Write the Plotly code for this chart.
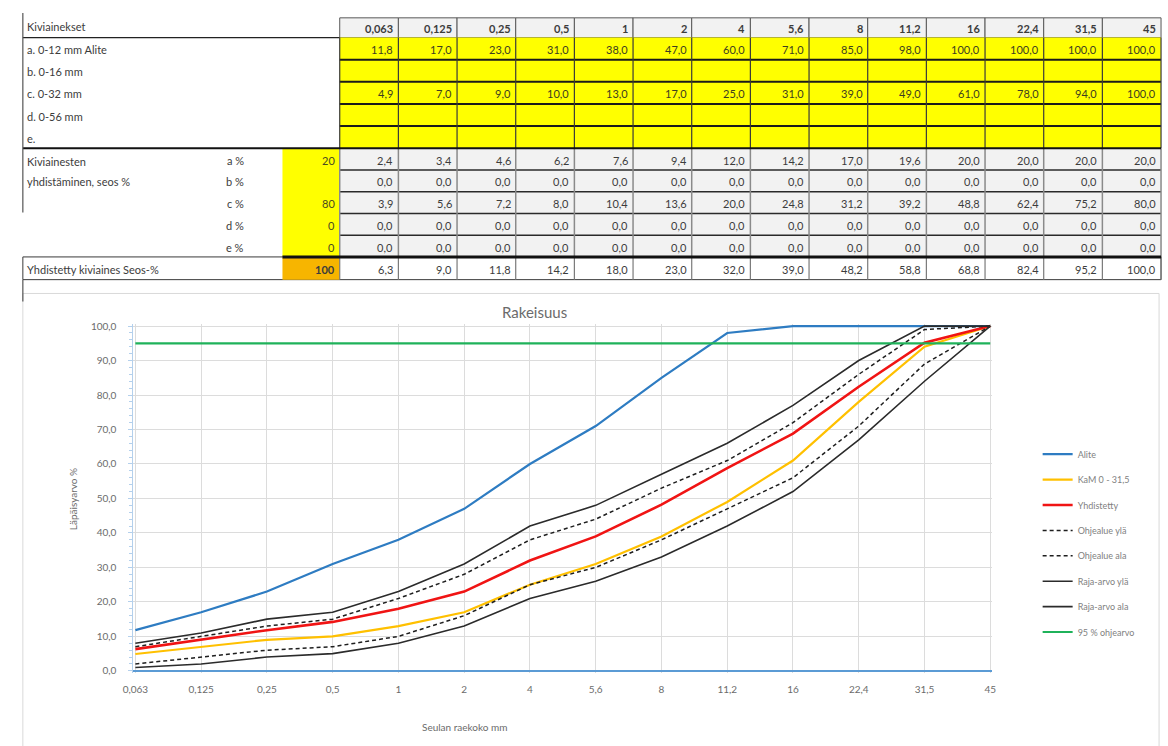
import plotly.graph_objects as go

W, H = 1168, 746

# ---- data -------------------------------------------------------------
sieve_sizes = ["0,063", "0,125", "0,25", "0,5", "1", "2", "4", "5,6", "8",
               "11,2", "16", "22,4", "31,5", "45"]

aggregate_labels = ["a. 0-12 mm Alite", "b. 0-16 mm", "c. 0-32 mm", "d. 0-56 mm", "e."]
alite_a = [11.8, 17.0, 23.0, 31.0, 38.0, 47.0, 60.0, 71.0, 85.0, 98.0, 100.0, 100.0, 100.0, 100.0]
kam_c = [4.9, 7.0, 9.0, 10.0, 13.0, 17.0, 25.0, 31.0, 39.0, 49.0, 61.0, 78.0, 94.0, 100.0]

share_labels = ["a %", "b %", "c %", "d %", "e %"]
shares = ["20", "", "80", "0", "0"]
share_total = "100"
part_a = [2.4, 3.4, 4.6, 6.2, 7.6, 9.4, 12.0, 14.2, 17.0, 19.6, 20.0, 20.0, 20.0, 20.0]
part_b = [0.0, 0.0, 0.0, 0.0, 0.0, 0.0, 0.0, 0.0, 0.0, 0.0, 0.0, 0.0, 0.0, 0.0]
part_c = [3.9, 5.6, 7.2, 8.0, 10.4, 13.6, 20.0, 24.8, 31.2, 39.2, 48.8, 62.4, 75.2, 80.0]
part_d = [0.0, 0.0, 0.0, 0.0, 0.0, 0.0, 0.0, 0.0, 0.0, 0.0, 0.0, 0.0, 0.0, 0.0]
part_e = [0.0, 0.0, 0.0, 0.0, 0.0, 0.0, 0.0, 0.0, 0.0, 0.0, 0.0, 0.0, 0.0, 0.0]
combined = [6.3, 9.0, 11.8, 14.2, 18.0, 23.0, 32.0, 39.0, 48.2, 58.8, 68.8, 82.4, 95.2, 100.0]

ohje_yla = [7, 10, 13, 15, 21, 28, 38, 44, 53, 61, 72, 86, 99, 100]
ohje_ala = [2, 4, 6, 7, 10, 16, 25, 30, 38, 47, 56, 71, 89, 100]
raja_yla = [8, 11, 15, 17, 23, 31, 42, 48, 57, 66, 77, 90, 100, 100]
raja_ala = [1, 2, 4, 5, 8, 13, 21, 26, 33, 42, 52, 67, 84, 100]
target_95 = 95

FONT = "Lato, 'Open Sans', sans-serif"
TXT = "#3c3c3c"


def X(px):
    return px / W


def Y(py):
    return 1 - py / H


def fmt(v):
    return f"{v:.1f}".replace(".", ",")


shapes = []
annotations = []


def rect(x0, y0, x1, y1, fill=None, line=None, lw=1, layer="above"):
    shapes.append(dict(type="rect", xref="paper", yref="paper",
                       x0=X(x0), x1=X(x1), y0=Y(y1), y1=Y(y0),
                       fillcolor=fill or "rgba(0,0,0,0)",
                       line=dict(color=line or "rgba(0,0,0,0)", width=lw if line else 0),
                       layer=layer))


def hline(x0, x1, y, color, lw):
    shapes.append(dict(type="line", xref="paper", yref="paper",
                       x0=X(x0), x1=X(x1), y0=Y(y), y1=Y(y),
                       line=dict(color=color, width=lw)))


def vline(x, y0, y1, color, lw):
    shapes.append(dict(type="line", xref="paper", yref="paper",
                       x0=X(x), x1=X(x), y0=Y(y0), y1=Y(y1),
                       line=dict(color=color, width=lw)))


def text(x, y, s, anchor="left", size=11, bold=False, color=TXT):
    annotations.append(dict(xref="paper", yref="paper", x=X(x), y=Y(y),
                            text=f"<b>{s}</b>" if bold else s, showarrow=False,
                            xanchor=anchor, yanchor="middle",
                            font=dict(family=FONT, size=size, color=color)))


# ---- spreadsheet table --------------------------------------------------
n = len(sieve_sizes)
col_left, col_right = 333, 1165
col_w = (col_right - col_left) / n
col_edges = [col_left + i * col_w for i in range(n + 1)]

hdr_top, hdr_bot = 13, 33
agg_rows = [33 + i * 22.4 for i in range(6)]          # a..e
share_rows = [145 + i * 22 for i in range(6)]         # a%..e%
tot_top, tot_bot = 255, 278
in_left, in_right = 275, 333

# header cells
for i in range(n):
    rect(col_edges[i], hdr_top, col_edges[i + 1], hdr_bot, fill="#f2f2f2", line="#595959", lw=1)
    text(col_edges[i + 1] - 3, (hdr_top + hdr_bot) / 2 + 1, sieve_sizes[i], anchor="right", bold=True)
text(14, 22, "Kiviainekset")
hline(12, col_left, hdr_bot, "#222222", 1.2)

# aggregate grading rows (yellow input block)
rect(col_left, agg_rows[0], col_right, agg_rows[-1], fill="#ffff00")
for y in agg_rows[1:-1]:
    hline(col_left, col_right, y, "#1a1a1a", 2)
for xe in col_edges:
    vline(xe, agg_rows[0], agg_rows[-1], "#3a3a3a", 1.2)
agg_values = [alite_a, None, kam_c, None, None]
for r, lab in enumerate(aggregate_labels):
    yc = (agg_rows[r] + agg_rows[r + 1]) / 2 + 1
    text(14, yc, lab)
    vals = agg_values[r]
    if vals is not None:
        for i, v in enumerate(vals):
            text(col_edges[i + 1] - 3, yc, fmt(v), anchor="right", color="#3d3d20")

# mixing share rows
parts = [part_a, part_b, part_c, part_d, part_e]
rect(col_left, share_rows[0], col_right, share_rows[-1], fill="#f2f2f2")
rect(in_left, share_rows[0], in_right, share_rows[-1], fill="#ffff00")
for y in share_rows[1:-1]:
    hline(col_left, col_right, y, "#2a2a2a", 1.5)
for xe in col_edges:
    vline(xe, share_rows[0], share_rows[-1], "#8a8a8a", 1.5)
text(14, 158, "Kiviainesten")
text(14, 179, "yhdistäminen, seos %")
for r, lab in enumerate(share_labels):
    yc = (share_rows[r] + share_rows[r + 1]) / 2 + 1
    text(227, yc, lab, anchor="center")
    if shares[r]:
        text(in_right - 3, yc, shares[r], anchor="right", color="#4a4a20")
    for i, v in enumerate(parts[r]):
        text(col_edges[i + 1] - 3, yc, fmt(v), anchor="right")
hline(12, col_right, share_rows[0], "#111111", 2)

# combined total row
rect(12, tot_top, col_right, tot_bot, line="#3a3a3a", lw=1)
rect(in_left, tot_top, in_right, tot_bot, fill="#f7b500")
for xe in col_edges:
    vline(xe, tot_top, tot_bot, "#7a7a7a", 1.2)
hline(in_left, col_right, tot_top, "#111111", 3)
text(14, (tot_top + tot_bot) / 2 + 1, "Yhdistetty kiviaines Seos-%")
text(in_right - 3, (tot_top + tot_bot) / 2 + 1, share_total, anchor="right", bold=True)
for i, v in enumerate(combined):
    text(col_edges[i + 1] - 3, (tot_top + tot_bot) / 2 + 1, fmt(v), anchor="right")

# sheet left border
vline(12, 8, 210, "#555555", 1.2)
vline(12, tot_bot, 300, "#555555", 1.2)

# chart frame
rect(12, 292, 1163, 760, line="#d9d9d9", lw=1, layer="below")

# ---- grading chart -----------------------------------------------------
x_left, x_right = 126, 992
y_top, y_bot = 325, 674
xpad, ypad = 0.03, 0.5
ux = (x_right - x_left) / (n - 1)
uy = (y_bot - y_top) / 100.0

series = [
    ("Alite", alite_a, "#2e7cc2", 2.2, "solid"),
    ("KaM 0 - 31,5", kam_c, "#ffc000", 2.2, "solid"),
    ("Yhdistetty", combined, "#f01414", 2.6, "solid"),
    ("Ohjealue ylä", ohje_yla, "#1e1e1e", 1.5, "4px,3px"),
    ("Ohjealue ala", ohje_ala, "#1e1e1e", 1.5, "4px,3px"),
    ("Raja-arvo ylä", raja_yla, "#2b2b2b", 1.6, "solid"),
    ("Raja-arvo ala", raja_ala, "#2b2b2b", 1.6, "solid"),
    ("95 % ohjearvo", [target_95 for _ in sieve_sizes], "#1fb25a", 2.2, "solid"),
]

fig = go.Figure()
for name, vals, color, width, dash in series:
    fig.add_trace(go.Scatter(
        x=sieve_sizes, y=vals, name=name, mode="lines", legendgroup=name,
        line=dict(color=color, width=width, dash=dash),
        hoverinfo="skip"))

text(530, 311, "Rakeisuus", anchor="center", size=15, color="#6b6b6b")
text(459, 731, "Seulan raekoko mm", anchor="center", size=10, color="#6b6b6b")
annotations.append(dict(xref="paper", yref="paper", x=X(63), y=Y(500),
                        text="Läpäisyarvo %", showarrow=False, textangle=-90,
                        xanchor="center", yanchor="middle",
                        font=dict(family=FONT, size=10, color="#6b6b6b")))

fig.update_layout(
    width=W, height=H,
    margin=dict(l=0, r=0, t=0, b=0),
    paper_bgcolor="white", plot_bgcolor="white",
    font=dict(family=FONT, color="#6b6b6b"),
    shapes=shapes, annotations=annotations,
    showlegend=True,
    legend=dict(x=X(1040), y=Y(440), xanchor="left", yanchor="top",
                font=dict(family=FONT, size=9, color="#7f7f7f"),
                bgcolor="rgba(0,0,0,0)", tracegroupgap=6.4, itemwidth=30),
    xaxis=dict(
        type="category", range=[-xpad, n - 1 + xpad],
        domain=[X(x_left - xpad * ux), X(x_right + xpad * ux)],
        showgrid=True, gridcolor="#dcdcdc", gridwidth=1,
        showline=False, zeroline=False, ticks="",
        tickfont=dict(family=FONT, size=10, color="#6b6b6b"),
        ticklabelstandoff=9,
        fixedrange=True),
    yaxis=dict(
        range=[-ypad, 100 + ypad],
        domain=[Y(y_bot + ypad * uy), Y(y_top - ypad * uy)],
        tickvals=list(range(0, 101, 10)),
        ticktext=[fmt(v) for v in range(0, 101, 10)],
        showgrid=True, gridcolor="#dcdcdc", gridwidth=1,
        zeroline=True, zerolinecolor="#5b9bd5", zerolinewidth=1.5,
        showline=True, linecolor="#b4d0ec", linewidth=1,
        ticks="outside", ticklen=4, tickcolor="#b4d0ec",
        minor=dict(ticks="outside", ticklen=3, tickcolor="#b4d0ec", dtick=2, showgrid=False),
        tickfont=dict(family=FONT, size=10, color="#6b6b6b"),
        ticklabelstandoff=10,
        fixedrange=True),
)

fig.write_html("out.html")
